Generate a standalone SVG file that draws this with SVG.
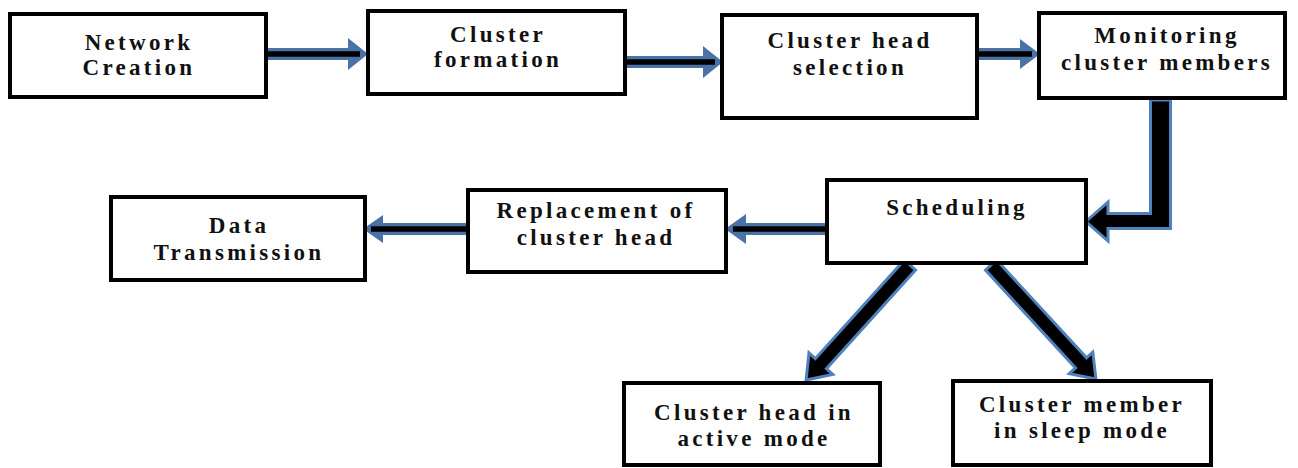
<svg xmlns="http://www.w3.org/2000/svg" width="1298" height="468" viewBox="0 0 1298 468">
<style>
.box{fill:#fff;stroke:#000;stroke-width:4}
.t{font-family:"Liberation Serif","Times New Roman",serif;font-weight:bold;font-size:23px;letter-spacing:3.3px;fill:#111;text-anchor:middle}
.ha{fill:#4A72A6}
.hl{stroke:#000;stroke-width:5.5;fill:none}
.ba{fill:#000;stroke:#4F81BD;stroke-width:3;stroke-linejoin:miter}
</style>
<rect width="1298" height="468" fill="#fff"/>
<g id="connectors">
  <g id="c1">
    <polygon class="ha" points="267,48 348,48 348,38 368,54 348,70 348,60 267,60"/>
    <line class="hl" x1="268" y1="54" x2="360" y2="54"/>
  </g>
  <g id="c2">
    <polygon class="ha" points="626,56 703,56 703,46 723,62 703,78 703,68 626,68"/>
    <line class="hl" x1="627" y1="62" x2="715" y2="62"/>
  </g>
  <g id="c3">
    <polygon class="ha" points="977,48 1020,48 1020,39 1040,54 1020,69 1020,60 977,60"/>
    <line class="hl" x1="978" y1="54" x2="1032" y2="54"/>
  </g>
  <path id="c4" class="ba" d="M1150.5,100 L1170.5,100 L1170.5,228.5 L1108,228.5 L1108,241 L1086,221.5 L1108,202 L1108,213.5 L1150.5,213.5 Z"/>
  <g id="c5">
    <polygon class="ha" points="826,223 746,223 746,214 725,229 746,244 746,235 826,235"/>
    <line class="hl" x1="825" y1="229" x2="733" y2="229"/>
  </g>
  <g id="c6">
    <polygon class="ha" points="467,223 383,223 383,215 363,229 383,243 383,235 467,235"/>
    <line class="hl" x1="466" y1="229" x2="371" y2="229"/>
  </g>
  <path id="c7" class="ba" transform="translate(910,265) rotate(132.1)" d="M0,-7.5 L133,-7.5 L133,-16 L155,0 L133,16 L133,7.5 L0,7.5 Z"/>
  <path id="c8" class="ba" transform="translate(991,265) rotate(47.4)" d="M0,-7.5 L133,-7.5 L133,-16 L155,0 L133,16 L133,7.5 L0,7.5 Z"/>
</g>
<g id="n1">
  <rect class="box" x="10" y="14" width="256" height="83"/>
  <text class="t" x="139" y="50">Network</text>
  <text class="t" x="139" y="75">Creation</text>
</g>
<g id="n2">
  <rect class="box" x="368" y="11" width="257" height="83"/>
  <text class="t" x="498" y="42">Cluster</text>
  <text class="t" x="498" y="67">formation</text>
</g>
<g id="n3">
  <rect class="box" x="722" y="15" width="255" height="103"/>
  <text class="t" x="850" y="48">Cluster head</text>
  <text class="t" x="850" y="75">selection</text>
</g>
<g id="n4">
  <rect class="box" x="1039" y="13" width="246" height="85"/>
  <text class="t" x="1167" y="43">Monitoring</text>
  <text class="t" x="1167" y="70">cluster members</text>
</g>
<g id="n5">
  <rect class="box" x="827" y="180" width="259" height="83"/>
  <text class="t" x="957" y="215">Scheduling</text>
</g>
<g id="n6">
  <rect class="box" x="468" y="190" width="258" height="82"/>
  <text class="t" x="596" y="218">Replacement of</text>
  <text class="t" x="596" y="245">cluster head</text>
</g>
<g id="n7">
  <rect class="box" x="111" y="197" width="254" height="83"/>
  <text class="t" x="239" y="233">Data</text>
  <text class="t" x="239" y="260">Transmission</text>
</g>
<g id="n8">
  <rect class="box" x="624" y="383" width="256" height="82"/>
  <text class="t" x="754" y="420">Cluster head in</text>
  <text class="t" x="754" y="446">active mode</text>
</g>
<g id="n9">
  <rect class="box" x="953" y="381" width="258" height="84"/>
  <text class="t" x="1082" y="412">Cluster member</text>
  <text class="t" x="1082" y="438">in sleep mode</text>
</g>
</svg>
